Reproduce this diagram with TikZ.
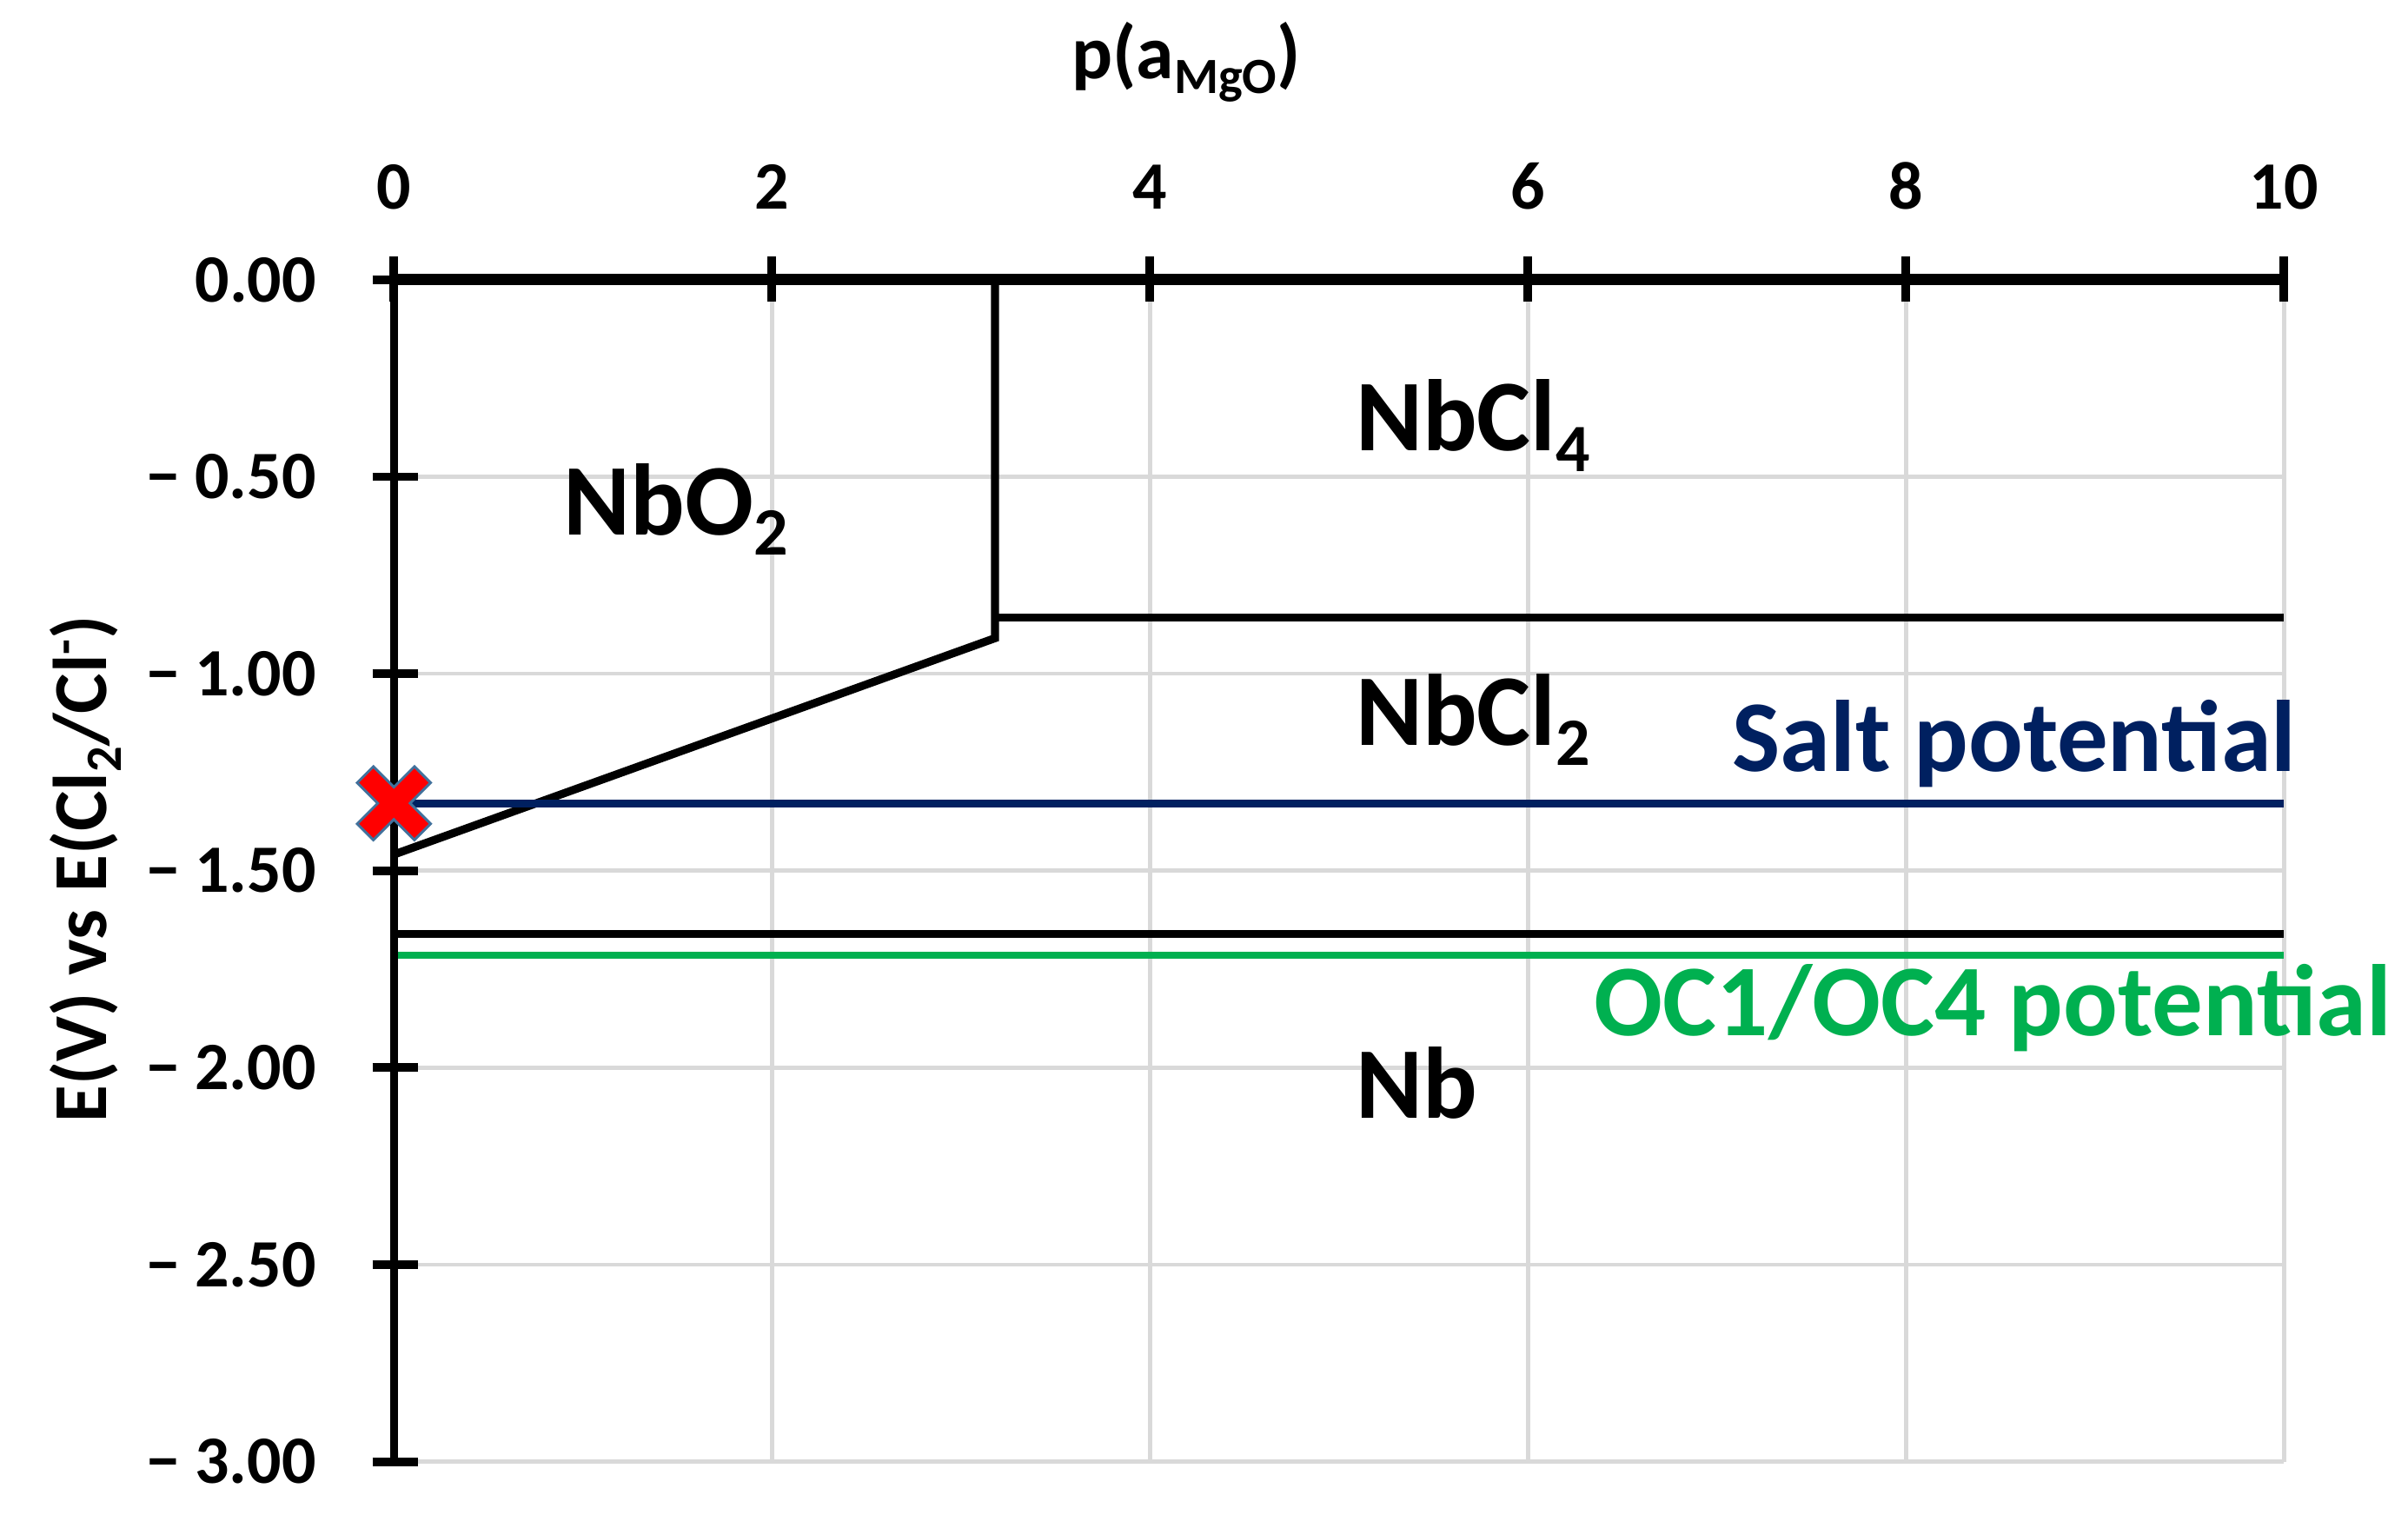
\documentclass[tikz,border=0pt]{standalone}
\usepackage{fontspec}
\setmainfont{Carlito}
\usetikzlibrary{positioning}
\definecolor{saltblue}{HTML}{002060}
\definecolor{ocgreen}{HTML}{00B050}
\definecolor{gridgray}{HTML}{D9D9D9}
\definecolor{xedge}{HTML}{41719C}
\newcommand{\chsub}[2]{\raisebox{-0.2em}{\fontsize{#1}{#1}\selectfont #2}}
\newcommand{\chsup}[2]{\raisebox{0.33em}{\fontsize{#1}{#1}\selectfont #2}}
\begin{document}
\begin{tikzpicture}[x=1.5699cm, y=3.2718cm,
  grid line/.style={gridgray, line width=1pt},
  phase line/.style={black, line width=1.9pt},
  axis tick/.style={black, line width=2pt},
  ticklabel/.style={font=\bfseries\fontsize{16}{19}\selectfont, inner sep=0pt},
  region/.style={font=\bfseries\fontsize{24}{29}\selectfont, inner sep=0pt, anchor=base west},
  axis title/.style={font=\bfseries\fontsize{18}{22}\selectfont, inner sep=0pt, anchor=base}]
\useasboundingbox (-2.084,-3.1333) rectangle (10.656,0.7097);
\foreach \x in {2,4,...,10} \draw[grid line] (\x,0) -- (\x,-3);
\foreach \y in {-0.5,-1,...,-3} \draw[grid line] (0,\y) -- (10,\y);
\coordinate (top) at (3.18,0);
\coordinate (triple) at (3.18,-0.91);
\coordinate (kink) at (3.18,-0.858);
\draw[phase line] (top) -- (triple) -- (0,-1.459);
\draw[phase line] (kink) -- (10,-0.858);
\draw[phase line] (0,-1.66) -- (10,-1.66);
\draw[saltblue, line width=1.9pt] (0,-1.329) -- (10,-1.329);
\draw[ocgreen, line width=1.7pt] (0,-1.714) -- (10,-1.714);
\draw[black, line width=1.8pt] (0,0) -- (0,-3);
\draw[black, line width=2.7pt] (0,0) -- (10,0);
\foreach \x in {0,2,...,10} {
  \draw[axis tick] (\x,0.058) -- (\x,-0.055);
  \node[ticklabel, anchor=base] (xt\x) at (\x,0.18) {\x};
}
\foreach \y/\lab [count=\i] in {0/0.00, -0.5/− 0.50, -1/− 1.00, -1.5/− 1.50, -2/− 2.00, -2.5/− 2.50, -3/− 3.00} {
  \draw[axis tick] (-0.113,\y) -- (0.126,\y);
  \node[ticklabel, anchor=east] (yt\i) at (-0.407,\y) {\lab};
}
\begin{scope}[shift={(0,-1.329)}, x=1cm, y=1cm, rotate=45]
\filldraw[fill=red, draw=xedge, line width=0.6pt] (0.095,0.095) -- (0.336,0.095) -- (0.336,-0.095) -- (0.095,-0.095) -- (0.095,-0.336) -- (-0.095,-0.336) -- (-0.095,-0.095) -- (-0.336,-0.095) -- (-0.336,0.095) -- (-0.095,0.095) -- (-0.095,0.336) -- (0.095,0.336) -- cycle;
\end{scope}
\node[axis title] (xtitle) at (4.192,0.511) {p(a\chsub{12}{MgO})};
\node[axis title, rotate=90] (ytitle) at (-1.523,-1.496) {E(V) vs E(Cl\chsub{12}{2}/Cl\chsup{12}{-})};
\node[region] (nbo2) at (0.895,-0.647) {NbO\chsub{16}{2}};
\node[region] (nbcl4) at (5.084,-0.435) {NbCl\chsub{16}{4}};
\node[region] (nbcl2) at (5.084,-1.181) {NbCl\chsub{16}{2}};
\node[region] (nb) at (5.088,-2.129) {Nb};
\node[region, anchor=base east, text=saltblue] (salt) at (10.068,-1.249) {Salt potential};
\node[region, text=ocgreen] (oc) at (6.348,-1.919) {OC1/OC4 potential};
\end{tikzpicture}
\end{document}
